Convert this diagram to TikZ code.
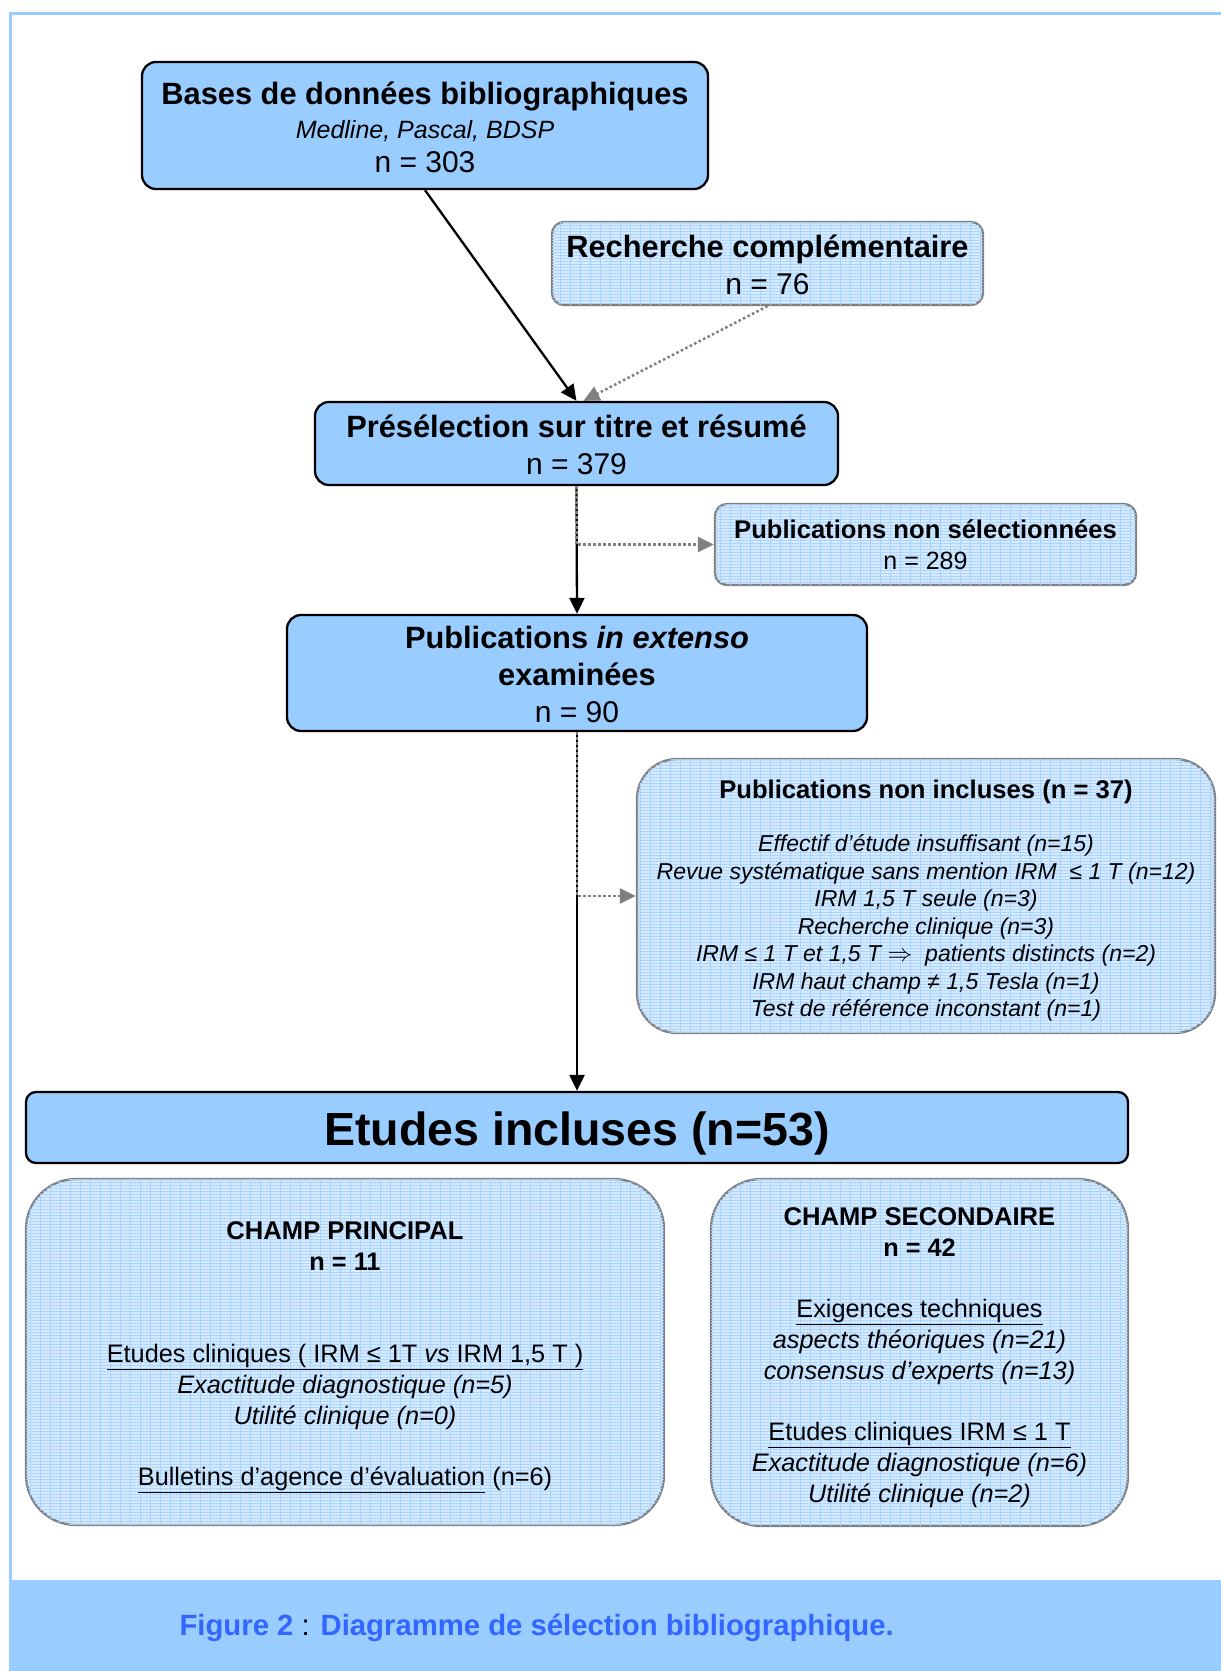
\documentclass[tikz,border=0pt]{standalone}
\usepackage{fontspec}
\setmainfont{Liberation Sans}
\usetikzlibrary{positioning,arrows.meta,patterns.meta}
\definecolor{boxblue}{HTML}{99CCFF}
\definecolor{gridblue}{HTML}{D6EAFF}
\definecolor{gridline}{HTML}{A9D3FF}
\definecolor{capblue}{HTML}{3366FF}
\definecolor{edgegray}{HTML}{808080}

\begin{document}
\begin{tikzpicture}[x=1pt,y=-1pt,>={Triangle[length=16pt,width=15pt]},
  solidbox/.style={draw=black, line width=2.3pt, fill=boxblue, rounded corners=14pt, align=center, inner sep=0pt},
  gridbox/.style={draw=edgegray, line width=2.3pt, fill=gridblue, rounded corners=#1, align=center, inner sep=0pt,
    postaction={pattern={Lines[distance=3pt, line width=0.9pt]}, pattern color=gridline},
    postaction={pattern={Lines[angle=90, distance=10pt, line width=0.7pt]}, pattern color=gridline}},
  gridbox/.default=12pt,
  flow/.style={->, line width=2.3pt, black},
  side/.style={->, line width=2.5pt, edgegray, dash pattern=on 2.5pt off 2.5pt}]

\useasboundingbox (0,0) rectangle (1221,1671);
\fill[white] (0,0) rectangle (1221,1671);

% page frame and caption band
\draw[boxblue, line width=3pt] (10.5,1580) -- (10.5,13.5) -- (1221,13.5);
\fill[boxblue] (9,1580) rectangle (1221,1671);
\node[anchor=west, font=\fontsize{29.3}{29.3}\selectfont] (caption) at (176,1628)
  {\textcolor{capblue}{\textbf{Figure 2}} : \textcolor{capblue}{\textbf{Diagramme de sélection bibliographique.}}};

% sources
\path
(425,125.5) node[solidbox, minimum width=566pt, minimum height=127pt, font=\fontsize{30}{34}\selectfont] (bases)
  {\rule{0pt}{26pt}{\fontsize{30.8}{30.8}\selectfont\bfseries Bases de données bibliographiques}\\{\fontsize{25}{25}\selectfont\itshape Medline, Pascal, BDSP}\\n = 303}
(767.5,263.5) node[gridbox, minimum width=431pt, minimum height=83pt, font=\fontsize{30}{37}\selectfont] (recherche)
  {\rule{0pt}{26pt}{\fontsize{30.8}{30.8}\selectfont\bfseries Recherche complémentaire}\\n = 76};

% screening
\path
(576.5,443.5) node[solidbox, minimum width=523pt, minimum height=83pt, font=\fontsize{30}{37}\selectfont] (presel)
  {\rule{0pt}{26pt}{\fontsize{30.8}{30.8}\selectfont\bfseries Présélection sur titre et résumé}\\n = 379}
(925.5,544.5) node[gridbox, minimum width=421pt, minimum height=81pt, font=\fontsize{25}{31}\selectfont] (nonsel)
  {{\fontsize{25.6}{25.6}\selectfont\bfseries Publications non sélectionnées}\\n = 289}
(577,673) node[solidbox, minimum width=580pt, minimum height=116pt, font=\fontsize{30.8}{37}\selectfont] (extenso)
  {\rule{0pt}{26pt}\textbf{Publications \textit{in extenso}}\\\textbf{examinées}\\{\fontsize{30}{30}\selectfont n = 90}}
(926,896) node[gridbox=40pt, minimum width=578pt, minimum height=274pt, font=\fontsize{23}{27.5}\selectfont\itshape] (noninc)
  {\rule{0pt}{28pt}{\fontsize{25.6}{25.6}\selectfont\bfseries\upshape Publications non incluses (n = 37)}\\[26pt]
   Effectif d’étude insuffisant (n=15)\\
   Revue systématique sans mention IRM \ ≤ 1 T (n=12)\\
   IRM 1,5 T seule (n=3)\\
   Recherche clinique (n=3)\\
   IRM ≤ 1 T et 1,5 T $\Rightarrow$ \ patients distincts (n=2)\\
   IRM haut champ ≠ 1,5 Tesla (n=1)\\
   Test de référence inconstant (n=1)};

% included studies
\path
(577,1127.5) node[solidbox, rounded corners=10pt, minimum width=1102pt, minimum height=71pt, font=\fontsize{46.5}{46.5}\selectfont\bfseries] (incluses)
  {\rule{0pt}{45pt}Etudes incluses (n=53)}
(345,1352) node[gridbox=50pt, minimum width=638pt, minimum height=346pt, font=\fontsize{25.3}{31}\selectfont] (principal)
  {\rule{0pt}{29pt}{\fontsize{25.6}{25.6}\selectfont\bfseries CHAMP PRINCIPAL}\\\textbf{n = 11}\\[61pt]
   \underline{Etudes cliniques ( IRM ≤ 1T \textit{vs} IRM 1,5 T )}\\
   \textit{Exactitude diagnostique (n=5)}\\
   \textit{Utilité clinique (n=0)}\\[30pt]
   \underline{Bulletins d’agence d’évaluation} (n=6)}
(919.5,1352.5) node[gridbox=50pt, minimum width=417pt, minimum height=347pt, font=\fontsize{25.3}{31}\selectfont] (secondaire)
  {\rule{0pt}{29pt}{\fontsize{25.6}{25.6}\selectfont\bfseries CHAMP SECONDAIRE}\\\textbf{n = 42}\\[30pt]
   \underline{Exigences techniques}\\
   \textit{aspects théoriques (n=21)}\\
   \textit{consensus d’experts (n=13)}\\[30pt]
   \underline{Etudes cliniques IRM ≤ 1 T}\\
   \textit{Exactitude diagnostique (n=6)}\\
   \textit{Utilité clinique (n=2)}};

% connectors
\draw[flow] (bases.south) -- (presel.north);
\draw[side] (recherche.south) -- ([xshift=7pt]presel.north);
\draw[flow] (presel.south) -- (extenso.north);
\draw[side] (presel.south) |- (nonsel.west);
\draw[flow] (extenso.south) -- (incluses.north);
\draw[side] (extenso.south) |- (noninc.west);

\end{tikzpicture}
\end{document}
